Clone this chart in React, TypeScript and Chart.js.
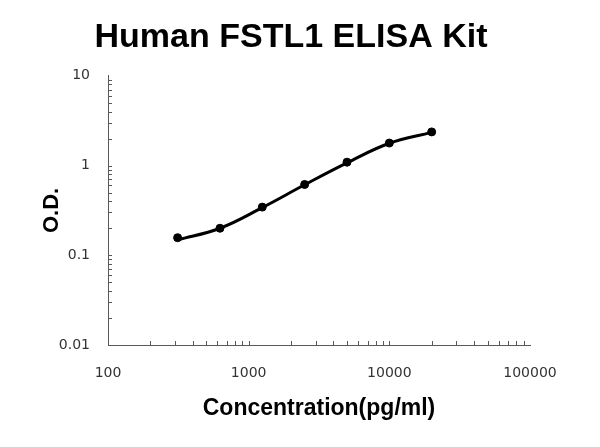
import { useEffect, useRef } from 'react';
import { Chart, registerables } from 'chart.js';

Chart.register(...registerables);

// standard concentrations (pg/ml) and measured O.D.
const concentrations = [312.5, 625, 1250, 2500, 5000, 10000, 20000];
const odValues = [0.157, 0.2, 0.344, 0.615, 1.09, 1.78, 2.37];
// fitted standard curve, read at the same concentrations
const fitValues = [0.148, 0.2, 0.34, 0.61, 1.07, 1.77, 2.34];

const xTicks = [100, 1000, 10000, 100000];
const yTicks = [0.01, 0.1, 1, 10];

const axisColor = '#595959';
const labelColor = '#333333';

// small tick marks drawn inward from the axes, 1..9 within each decade
const innerTicks = {
    id: 'innerTicks',
    afterDraw(chart: Chart) {
        const { ctx, chartArea } = chart;
        const x = chart.scales.x;
        const y = chart.scales.y;
        ctx.save();
        ctx.strokeStyle = axisColor;
        ctx.lineWidth = 1;
        ctx.beginPath();
        for (let e = Math.round(Math.log10(x.min)); e < Math.round(Math.log10(x.max)); e++) {
            for (let m = 1; m <= 9; m++) {
                const px = Math.round(x.getPixelForValue(m * Math.pow(10, e))) + 0.5;
                ctx.moveTo(px, chartArea.bottom);
                ctx.lineTo(px, chartArea.bottom - 4);
            }
        }
        for (let e = Math.round(Math.log10(y.min)); e < Math.round(Math.log10(y.max)); e++) {
            for (let m = 1; m <= 9; m++) {
                const py = Math.round(y.getPixelForValue(m * Math.pow(10, e))) + 0.5;
                ctx.moveTo(chartArea.left, py);
                ctx.lineTo(chartArea.left + 4, py);
            }
        }
        ctx.stroke();
        ctx.restore();
    },
};

export default function App() {
    const canvasRef = useRef<HTMLCanvasElement>(null);

    useEffect(() => {
        if (!canvasRef.current) return;
        const chart = new Chart(canvasRef.current, {
            type: 'line',
            data: {
                datasets: [
                    {
                        label: 'fit',
                        data: concentrations.map((c, i) => ({ x: c, y: fitValues[i] })),
                        borderColor: '#000000',
                        borderWidth: 3,
                        pointRadius: 0,
                        tension: 0.4,
                        fill: false,
                    },
                    {
                        label: 'standards',
                        data: concentrations.map((c, i) => ({ x: c, y: odValues[i] })),
                        showLine: false,
                        pointRadius: 4,
                        pointBackgroundColor: '#000000',
                        pointBorderColor: '#000000',
                    },
                ],
            },
            options: {
                animation: false,
                responsive: true,
                maintainAspectRatio: false,
                layout: { padding: { left: 0, right: 18, top: 0, bottom: 0 } },
                plugins: {
                    legend: { display: false },
                    tooltip: { enabled: false },
                    title: {
                        display: true,
                        text: 'Human FSTL1 ELISA Kit',
                        color: '#000000',
                        font: { family: '"Liberation Sans", Arial, sans-serif', size: 34, weight: 'bold' },
                        padding: { top: 17, bottom: 18 },
                    },
                },
                scales: {
                    x: {
                        type: 'logarithmic',
                        min: 100,
                        max: 100000,
                        grid: { display: false, drawTicks: false },
                        border: { display: true, color: axisColor, width: 1 },
                        afterBuildTicks: (scale) => { scale.ticks = xTicks.map(v => ({ value: v })); },
                        afterFit: (scale) => { scale.height = 102; },
                        ticks: {
                            autoSkip: false,
                            maxRotation: 0,
                            padding: 20,
                            color: labelColor,
                            font: { family: '"DejaVu Sans", Verdana, sans-serif', size: 14 },
                            callback: (v) => String(v),
                        },
                        title: {
                            display: true,
                            text: 'Concentration(pg/ml)',
                            color: '#000000',
                            font: { family: '"Liberation Sans", Arial, sans-serif', size: 23, weight: 'bold' },
                            padding: { top: 0, bottom: 25 },
                        },
                    },
                    y: {
                        type: 'logarithmic',
                        min: 0.01,
                        max: 10,
                        grid: { display: false, drawTicks: false },
                        border: { display: true, color: axisColor, width: 1 },
                        afterBuildTicks: (scale) => { scale.ticks = yTicks.map(v => ({ value: v })); },
                        afterFit: (scale) => { scale.width = 108; },
                        ticks: {
                            autoSkip: false,
                            padding: 18,
                            color: labelColor,
                            font: { family: '"DejaVu Sans", Verdana, sans-serif', size: 14 },
                            callback: (v) => String(v),
                        },
                        title: {
                            display: true,
                            text: 'O.D.',
                            color: '#000000',
                            font: { family: '"Liberation Sans", Arial, sans-serif', size: 22, weight: 'bold' },
                            padding: { top: 39, bottom: 0 },
                        },
                    },
                    // empty right-hand box that keeps the plot narrower than the title band
                    spacer: {
                        type: 'linear',
                        position: 'right',
                        grid: { display: false, drawTicks: false },
                        border: { display: false },
                        ticks: { display: false },
                        afterFit: (scale) => { scale.width = 52; },
                    },
                },
            },
            plugins: [innerTicks],
        });
        return () => chart.destroy();
    }, []);

    return (
        <div style={{ position: 'fixed', left: 0, top: 0, width: 600, height: 447, background: '#ffffff' }}>
            <canvas ref={canvasRef} />
        </div>
    );
}
